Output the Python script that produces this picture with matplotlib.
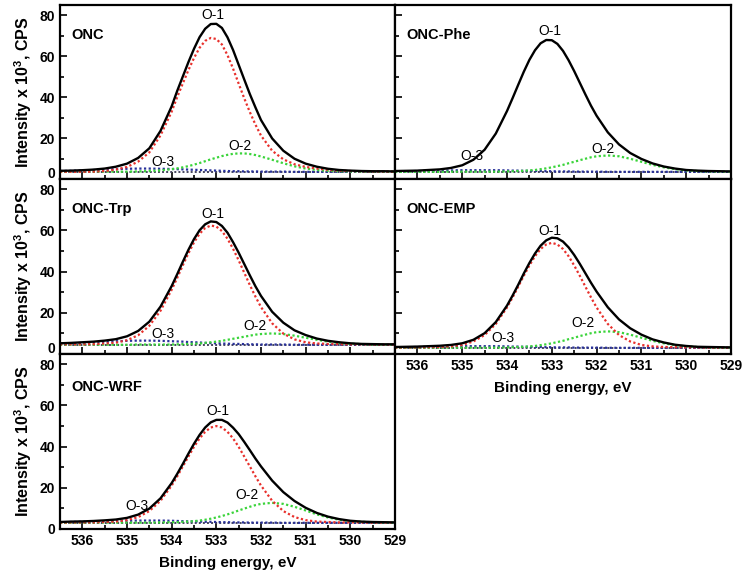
import matplotlib.pyplot as plt
from matplotlib.ticker import MultipleLocator

plt.rcParams['font.family'] = ['Liberation Sans', 'DejaVu Sans']
plt.rcParams['mathtext.fontset'] = 'custom'
plt.rcParams['mathtext.rm'] = 'Liberation Sans'
plt.rcParams['mathtext.bf'] = 'Liberation Sans:bold'

# binding energy points (eV), denser around the O-1 maximum
energy = [536.5, 536.25, 536.0, 535.75, 535.5, 535.25, 535.0, 534.75, 534.5, 534.25,
          534.0, 533.875, 533.75, 533.625, 533.5, 533.375, 533.25, 533.125, 533.0, 532.875,
          532.75, 532.625, 532.5, 532.375, 532.25, 532.125, 532.0, 531.75, 531.5, 531.25,
          531.0, 530.75, 530.5, 530.25, 530.0, 529.75, 529.5, 529.25, 529.0]

# ONC
onc_base = 3.5
onc_total = [4.0, 4.1, 4.3, 4.6, 5.1, 6.0, 7.5, 10.3, 15.0, 23.5,
             35.5, 43.1, 50.1, 57.1, 63.6, 69.3, 73.4, 75.7, 75.8, 73.8,
             69.2, 63.0, 55.8, 48.6, 41.5, 35.0, 28.8, 19.8, 13.8, 9.9,
             7.5, 6.0, 5.0, 4.4, 4.1, 3.9, 3.8, 3.8, 3.7]
onc_o1 = [3.6, 3.5, 3.5, 3.6, 3.9, 4.6, 5.9, 8.5, 13.0, 21.3,
          32.9, 40.1, 46.7, 53.2, 59.1, 64.1, 67.5, 68.9, 68.4, 65.7,
          60.5, 53.9, 46.6, 39.4, 32.7, 26.6, 21.2, 13.8, 9.6, 7.2,
          5.9, 5.1, 4.5, 4.1, 3.9, 3.8, 3.7, 3.7, 3.6]
onc_o2 = [3.5, 3.6, 3.6, 3.6, 3.6, 3.6, 3.6, 3.7, 3.9, 4.2,
          4.8, 5.2, 5.7, 6.3, 7.0, 7.8, 8.7, 9.6, 10.4, 11.2,
          11.8, 12.3, 12.5, 12.5, 12.2, 11.7, 11.0, 9.4, 7.7, 6.2,
          5.1, 4.4, 4.0, 3.8, 3.7, 3.6, 3.6, 3.6, 3.6]
onc_o3 = [3.9, 4.0, 4.2, 4.4, 4.6, 4.8, 5.0, 5.1, 5.1, 5.0,
          4.9, 4.8, 4.7, 4.6, 4.5, 4.4, 4.3, 4.2, 4.1, 4.0,
          3.9, 3.8, 3.8, 3.7, 3.7, 3.7, 3.6, 3.6, 3.6, 3.5,
          3.5, 3.5, 3.5, 3.5, 3.5, 3.5, 3.5, 3.5, 3.5]

# ONC-Phe (no O-1 trace drawn)
phe_base = 3.5
phe_total = [3.9, 4.0, 4.1, 4.4, 4.7, 5.4, 6.7, 9.4, 14.3, 22.2,
             33.2, 39.5, 46.0, 52.4, 58.2, 62.9, 66.3, 67.9, 67.8, 66.0,
             62.6, 58.0, 52.7, 47.0, 41.3, 35.8, 30.9, 22.8, 16.9, 12.7,
             9.8, 7.6, 6.1, 5.1, 4.4, 4.1, 3.9, 3.8, 3.7]
phe_o2 = [3.5, 3.5, 3.5, 3.5, 3.5, 3.6, 3.6, 3.6, 3.6, 3.6,
          3.7, 3.8, 3.9, 4.0, 4.2, 4.4, 4.8, 5.2, 5.7, 6.3,
          6.9, 7.7, 8.4, 9.2, 9.9, 10.6, 11.1, 11.5, 11.1, 9.9,
          8.4, 6.9, 5.7, 4.8, 4.2, 3.9, 3.7, 3.6, 3.6]
phe_o3 = [3.7, 3.8, 3.9, 4.0, 4.1, 4.2, 4.3, 4.3, 4.3, 4.3,
          4.2, 4.1, 4.1, 4.0, 4.0, 3.9, 3.9, 3.8, 3.8, 3.7,
          3.7, 3.7, 3.6, 3.6, 3.6, 3.6, 3.6, 3.5, 3.5, 3.5,
          3.5, 3.5, 3.5, 3.5, 3.5, 3.5, 3.5, 3.5, 3.5]

# ONC-Trp
trp_base = 4.5
trp_total = [5.2, 5.4, 5.7, 6.0, 6.5, 7.2, 8.6, 11.2, 15.7, 23.0,
             33.0, 38.8, 44.8, 50.6, 55.8, 60.1, 63.0, 64.4, 64.1, 62.2,
             58.9, 54.3, 49.2, 43.7, 38.2, 32.9, 28.2, 20.5, 15.2, 11.5,
             9.2, 7.5, 6.4, 5.7, 5.2, 4.9, 4.8, 4.7, 4.7]
trp_o1 = [4.7, 4.7, 4.7, 4.8, 5.1, 5.5, 6.7, 9.1, 13.7, 21.0,
          31.2, 37.0, 43.1, 48.9, 54.2, 58.4, 61.2, 62.4, 61.9, 59.7,
          56.0, 51.1, 45.5, 39.5, 33.5, 27.9, 22.8, 14.9, 9.9, 7.1,
          5.7, 5.1, 4.9, 4.8, 4.7, 4.7, 4.6, 4.6, 4.6]
trp_o2 = [4.5, 4.5, 4.5, 4.5, 4.5, 4.5, 4.5, 4.6, 4.6, 4.6,
          4.6, 4.7, 4.8, 4.9, 5.0, 5.1, 5.4, 5.7, 6.0, 6.4,
          6.9, 7.4, 7.9, 8.4, 8.9, 9.4, 9.7, 10.0, 9.7, 8.9,
          7.9, 6.9, 6.0, 5.4, 5.0, 4.8, 4.6, 4.6, 4.6]
trp_o3 = [5.0, 5.2, 5.4, 5.7, 5.9, 6.2, 6.4, 6.5, 6.5, 6.4,
          6.2, 6.1, 6.0, 5.8, 5.7, 5.6, 5.4, 5.3, 5.2, 5.1,
          5.0, 4.9, 4.9, 4.8, 4.7, 4.7, 4.6, 4.6, 4.6, 4.5,
          4.5, 4.5, 4.5, 4.5, 4.5, 4.5, 4.5, 4.5, 4.5]

# ONC-EMP
emp_base = 3.0
emp_total = [3.4, 3.5, 3.6, 3.8, 4.0, 4.4, 5.2, 6.9, 10.1, 15.5,
             23.5, 28.4, 33.6, 39.1, 44.2, 48.8, 52.6, 55.2, 56.5, 56.2,
             54.6, 51.8, 48.1, 43.8, 39.2, 34.6, 30.3, 22.7, 16.8, 12.5,
             9.4, 7.1, 5.6, 4.5, 3.9, 3.5, 3.4, 3.3, 3.2]
emp_o1 = [3.1, 3.2, 3.2, 3.3, 3.4, 3.7, 4.4, 6.1, 9.2, 14.6,
          22.6, 27.5, 32.7, 38.0, 43.0, 47.5, 51.0, 53.2, 54.0, 53.2,
          51.0, 47.5, 43.0, 38.0, 32.7, 27.5, 22.6, 14.6, 9.2, 6.1,
          4.4, 3.7, 3.4, 3.3, 3.2, 3.2, 3.1, 3.1, 3.1]
emp_o2 = [3.0, 3.0, 3.0, 3.0, 3.0, 3.1, 3.1, 3.1, 3.1, 3.1,
          3.2, 3.3, 3.4, 3.5, 3.7, 3.9, 4.3, 4.7, 5.2, 5.8,
          6.4, 7.2, 7.9, 8.7, 9.4, 10.1, 10.6, 11.0, 10.6, 9.4,
          7.9, 6.4, 5.2, 4.3, 3.7, 3.4, 3.2, 3.1, 3.1]
emp_o3 = [3.2, 3.3, 3.4, 3.5, 3.6, 3.7, 3.8, 3.8, 3.8, 3.8,
          3.7, 3.6, 3.6, 3.5, 3.5, 3.4, 3.4, 3.3, 3.3, 3.2,
          3.2, 3.2, 3.1, 3.1, 3.1, 3.1, 3.1, 3.0, 3.0, 3.0,
          3.0, 3.0, 3.0, 3.0, 3.0, 3.0, 3.0, 3.0, 3.0]

# ONC-WRF
wrf_base = 3.0
wrf_total = [3.4, 3.6, 3.7, 3.9, 4.2, 4.6, 5.4, 7.0, 9.9, 14.9,
             22.3, 26.8, 31.6, 36.6, 41.4, 45.7, 49.3, 51.8, 53.0, 53.0,
             51.7, 49.2, 46.1, 42.3, 38.3, 34.2, 30.4, 23.5, 17.9, 13.6,
             10.3, 7.8, 6.0, 4.8, 4.0, 3.6, 3.4, 3.3, 3.2]
wrf_o1 = [3.1, 3.2, 3.2, 3.2, 3.4, 3.6, 4.3, 5.8, 8.7, 13.7,
          21.1, 25.6, 30.4, 35.2, 39.9, 44.0, 47.2, 49.3, 50.0, 49.3,
          47.2, 44.0, 39.9, 35.2, 30.4, 25.6, 21.1, 13.7, 8.7, 5.8,
          4.3, 3.6, 3.4, 3.2, 3.2, 3.2, 3.1, 3.1, 3.1]
wrf_o2 = [3.0, 3.0, 3.0, 3.1, 3.1, 3.1, 3.1, 3.1, 3.1, 3.2,
          3.3, 3.3, 3.5, 3.6, 3.8, 4.1, 4.5, 5.0, 5.6, 6.3,
          7.1, 8.0, 9.0, 9.9, 10.8, 11.6, 12.2, 12.7, 12.2, 10.8,
          9.0, 7.1, 5.6, 4.5, 3.8, 3.5, 3.3, 3.2, 3.1]
wrf_o3 = [3.3, 3.4, 3.5, 3.6, 3.8, 3.9, 4.0, 4.1, 4.1, 4.1,
          4.0, 3.9, 3.8, 3.7, 3.7, 3.6, 3.5, 3.5, 3.4, 3.3,
          3.3, 3.2, 3.2, 3.2, 3.1, 3.1, 3.1, 3.1, 3.0, 3.0,
          3.0, 3.0, 3.0, 3.0, 3.0, 3.0, 3.0, 3.0, 3.0]

# peak label anchors (eV, intensity) for O-1, O-2, O-3
onc_lbl = [(533.08, 80.0), (532.47, 16.3), (534.19, 8.1)]
phe_lbl = [(533.04, 72.3), (531.85, 14.6), (534.79, 11.4)]
trp_lbl = [(533.07, 68.0), (532.14, 13.6), (534.19, 9.5)]
emp_lbl = [(533.04, 59.9), (532.30, 15.2), (534.08, 7.9)]
wrf_lbl = [(532.96, 57.2), (532.32, 16.3), (534.78, 11.4)]

y_ticks = [0, 20, 40, 60, 80]

# name, total, O-1, O-2, O-3, baseline, labels, title y, axes box (px), left col, bottom row
panels = [
    ('ONC', onc_total, onc_o1, onc_o2, onc_o3, onc_base, onc_lbl, 0.83, [60, 5, 335, 174], True, False),
    ('ONC-Phe', phe_total, None, phe_o2, phe_o3, phe_base, phe_lbl, 0.83, [395, 5, 336, 174], False, False),
    ('ONC-Trp', trp_total, trp_o1, trp_o2, trp_o3, trp_base, trp_lbl, 0.83, [60, 179, 335, 175], True, False),
    ('ONC-EMP', emp_total, emp_o1, emp_o2, emp_o3, emp_base, emp_lbl, 0.83, [395, 179, 336, 175], False, True),
    ('ONC-WRF', wrf_total, wrf_o1, wrf_o2, wrf_o3, wrf_base, wrf_lbl, 0.81, [60, 354, 335, 175], True, True),
]

W, H = 747, 579
fig = plt.figure(figsize=(W / 100, H / 100), dpi=100)

dot = (0, (1, 1.1))
for name, total, o1, o2, o3, base, lbl, ty, (px, py, pw, ph), left_col, bottom_row in panels:
    ax = fig.add_axes([px / W, 1 - (py + ph) / H, pw / W, ph / H])
    ax.plot(energy, [base] * len(energy), color='#45455e', lw=1.4, ls=dot)
    ax.plot(energy, o3, color='#28309a', lw=1.6, ls=dot)
    ax.plot(energy, o2, color='#3ad43a', lw=1.6, ls=dot)
    if o1 is not None:
        ax.plot(energy, o1, color='#e8302c', lw=1.6, ls=dot)
    ax.plot(energy, total, color='black', lw=1.7)

    ax.set_xlim(536.5, 529)
    ax.set_ylim(0, 85)
    ax.xaxis.set_major_locator(MultipleLocator(1))
    ax.xaxis.set_minor_locator(MultipleLocator(0.5))
    ax.yaxis.set_minor_locator(MultipleLocator(10))
    ax.tick_params(which='both', direction='in', width=1.2)
    ax.tick_params(which='major', length=5, labelsize=10)
    ax.tick_params(which='minor', length=3)
    for s in ax.spines.values():
        s.set_linewidth(1.6)

    if left_col and not bottom_row:
        # the "0" is written a bit higher, clear of the "80" of the panel below
        ax.set_yticks(y_ticks, labels=[''] + [str(v) for v in y_ticks[1:]])
        ax.annotate(str(y_ticks[0]), xy=(0, y_ticks[0]), xycoords=('axes fraction', 'data'),
                    xytext=(-3.5, 3.5), textcoords='offset points', ha='right', va='center',
                    fontsize=10, fontweight='bold')
    else:
        ax.set_yticks(y_ticks)
    for t in ax.get_xticklabels() + ax.get_yticklabels():
        t.set_fontweight('bold')

    if left_col:
        ax.set_ylabel(r'Intensity x 10$^{\mathbf{3}}$, CPS', fontsize=11.5, fontweight='bold', labelpad=4)
    else:
        ax.tick_params(labelleft=False)
    if bottom_row:
        ax.set_xlabel('Binding energy, eV', fontsize=11, fontweight='bold', labelpad=6)
    else:
        ax.tick_params(labelbottom=False)

    ax.text(0.035, ty, name, transform=ax.transAxes, fontsize=10.5, fontweight='bold', va='center')
    for txt, (ex, iy) in zip(['O-1', 'O-2', 'O-3'], lbl):
        ax.text(ex, iy, txt, fontsize=10, ha='center', va='center')

fig.savefig('out.png', dpi=100)
